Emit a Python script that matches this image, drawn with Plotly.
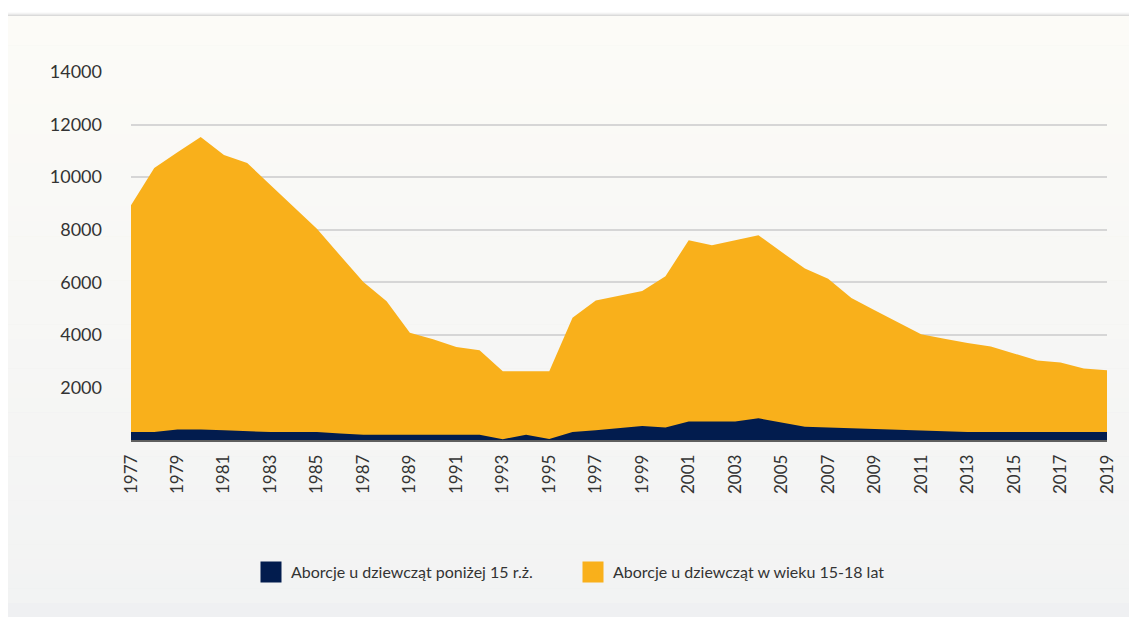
import plotly.graph_objects as go

years = list(range(1977, 2020))

# Aborcje u dziewcząt w wieku 15-18 lat (top of yellow area)
age_15_18 = [8930, 10350, 10950, 11530, 10840, 10540, 9700, 8870, 8040, 7020,
             6010, 5280, 4080, 3830, 3540, 3410, 2620, 2620, 2620, 4650,
             5310, 5490, 5670, 6230, 7600, 7410, 7600, 7790, 7150, 6520,
             6130, 5400, 4940, 4480, 4020, 3850, 3690, 3560, 3290, 3020,
             2950, 2720, 2650]

# Aborcje u dziewcząt poniżej 15 r.ż.
under_15 = [300, 300, 400, 400, 370, 330, 300, 300, 300, 250,
            200, 200, 200, 200, 200, 200, 30, 200, 40, 300,
            370, 440, 530, 480, 700, 700, 700, 825, 660, 505,
            480, 450, 420, 390, 360, 330, 300, 300, 300, 300,
            300, 300, 300]

name_under = "Aborcje u dziewcząt poniżej 15 r.ż."
name_15_18 = "Aborcje u dziewcząt w wieku 15-18 lat"

tick_years = list(range(1977, 2020, 2))
y_ticks = [2000, 4000, 6000, 8000, 10000, 12000, 14000]

NAVY = "#021c4e"
YELLOW = "#f9b01b"

# page body has an 8px margin; figure sized so it ends at the window edge
OFF = 8
W, H = 1137 - OFF, 617 - OFF
L = 131 - OFF
R = 1137 - 1107
T = 72 - OFF
B = H - (440 - OFF)
PW, PH = W - L - R, H - T - B


def px_x(px):  # screen px -> paper x
    return (px - OFF - L) / PW


def px_y(py):  # screen px -> paper y
    return (H - B - (py - OFF)) / PH


fig = go.Figure()

fig.add_trace(go.Scatter(x=years, y=age_15_18, mode="lines", fill="tozeroy",
                         line=dict(width=0, color=YELLOW), fillcolor=YELLOW,
                         showlegend=False, hoverinfo="skip"))
fig.add_trace(go.Scatter(x=years, y=under_15, mode="lines", fill="tozeroy",
                         line=dict(width=0, color=NAVY), fillcolor=NAVY,
                         showlegend=False, hoverinfo="skip"))
# legend entries
fig.add_trace(go.Scatter(x=[None], y=[None], mode="markers", name=name_under,
                         marker=dict(symbol="square", size=16, color=NAVY,
                                     line=dict(width=5, color=NAVY))))
fig.add_trace(go.Scatter(x=[None], y=[None], mode="markers", name=name_15_18,
                         marker=dict(symbol="square", size=16, color=YELLOW,
                                     line=dict(width=5, color=YELLOW))))

shapes = []
# soft shadow along top of card
for i, alpha in enumerate([0.015, 0.03, 0.045, 0.06]):
    shapes.append(dict(type="rect", xref="paper", yref="paper", layer="below",
                       x0=px_x(0), x1=px_x(1145), y0=px_y(630), y1=px_y(12 + i),
                       fillcolor="rgba(0,0,0,%f)" % alpha, line=dict(width=0)))
# background card with vertical gradient
top_c = (252, 251, 247)
bot_c = (242, 243, 243)
y0p, y1p = 16, 603
n = 40
for i in range(n):
    a = y0p + (y1p - y0p) * i / n
    b = y0p + (y1p - y0p) * (i + 1) / n
    t = i / (n - 1)
    c = tuple(round(top_c[k] + (bot_c[k] - top_c[k]) * t) for k in range(3))
    shapes.append(dict(type="rect", xref="paper", yref="paper", layer="below",
                       x0=px_x(0), x1=px_x(1145), y0=px_y(b + 0.5), y1=px_y(a),
                       fillcolor="rgb(%d,%d,%d)" % c, line=dict(width=0)))
shapes.append(dict(type="rect", xref="paper", yref="paper", layer="below",
                   x0=px_x(0), x1=px_x(1145), y0=px_y(630), y1=px_y(y1p),
                   fillcolor="#eff0f2", line=dict(width=0)))

fig.update_layout(
    width=W, height=H,
    margin=dict(l=L, r=R, t=T, b=B),
    paper_bgcolor="#ffffff",
    plot_bgcolor="rgba(0,0,0,0)",
    font=dict(family="Lato, 'Open Sans', sans-serif", color="#333333"),
    shapes=shapes,
    showlegend=True,
    legend=dict(orientation="h", x=px_x(251), xanchor="left",
                y=px_y(572), yanchor="middle",
                font=dict(size=16, color="#333333"),
                bgcolor="rgba(0,0,0,0)", itemwidth=30,
                tracegroupgap=0, entrywidth=277),
    xaxis=dict(range=[1977, 2019], tickvals=tick_years, tickangle=-90,
               tickfont=dict(size=17, color="#333333"),
               showgrid=False, zeroline=False, showline=True,
               linecolor="#5f5f5f", linewidth=1.5, ticks="", ticklabelstandoff=6),
    yaxis=dict(range=[0, 14000], tickvals=y_ticks, tickformat="d",
               tickfont=dict(size=18, color="#333333"),
               showgrid=True, gridcolor="#d6d6d6", gridwidth=1.5,
               zeroline=False, showline=False, ticks="", ticklabelstandoff=28),
)

fig.write_html("out.html")
